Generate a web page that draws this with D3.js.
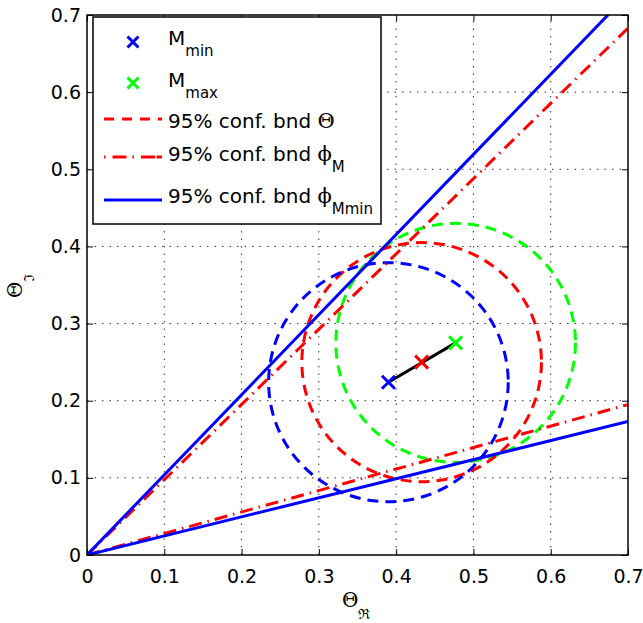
<!DOCTYPE html>
<html>
<head>
<meta charset="utf-8">
<script src="https://cdn.jsdelivr.net/npm/d3@7"></script>
<style>
  body { margin: 0; background: #fff; }
  text { font-family: "DejaVu Sans", sans-serif; fill: #000; }
</style>
</head>
<body>
<div id="chart"></div>
<script>
// axis ticks (same on both axes)
var tickValues = [0, 0.1, 0.2, 0.3, 0.4, 0.5, 0.6, 0.7];
var tickLabels = ["0", "0.1", "0.2", "0.3", "0.4", "0.5", "0.6", "0.7"];

// point estimates: Mmin, M, Mmax
var markerNames = ["Mmin", "M", "Mmax"];
var markerRe = [0.390, 0.433, 0.477];
var markerIm = [0.224, 0.250, 0.275];
var markerColors = ["#0000ff", "#ff0000", "#00ff00"];

// 95% confidence circles round each point
var circleRadius = [0.155, 0.155, 0.155];

// bound lines from the origin, value of Theta_Im at Theta_Re = 0.7
var lineRe = [0, 0.7];
var phiMUpper = [0, 0.683];
var phiMLower = [0, 0.195];
var phiMminUpper = [0, 0.727];
var phiMminLower = [0, 0.173];

var width = 643, height = 623;
var margin = { left: 87, top: 15, right: 15, bottom: 68 };

var svg = d3.select("#chart").append("svg")
  .attr("width", width)
  .attr("height", height);

var x = d3.scaleLinear().domain([0, 0.7]).range([margin.left, width - margin.right]);
var y = d3.scaleLinear().domain([0, 0.7]).range([height - margin.bottom, margin.top]);

svg.append("clipPath").attr("id", "plot-clip")
  .append("rect")
  .attr("x", x(0)).attr("y", y(0.7))
  .attr("width", x(0.7) - x(0)).attr("height", y(0) - y(0.7));

// grid
var grid = svg.append("g");
grid.selectAll(".gx").data(tickValues.slice(1, -1)).enter().append("line")
  .attr("x1", d => x(d)).attr("x2", d => x(d))
  .attr("y1", y(0)).attr("y2", y(0.7))
  .attr("stroke", "#333").attr("stroke-width", 1).attr("stroke-dasharray", "1.5,6");
grid.selectAll(".gy").data(tickValues.slice(1, -1)).enter().append("line")
  .attr("y1", d => y(d)).attr("y2", d => y(d))
  .attr("x1", x(0)).attr("x2", x(0.7))
  .attr("stroke", "#333").attr("stroke-width", 1).attr("stroke-dasharray", "1.5,6");

// axes, ticks inward on all sides
var fmt = (d, i) => tickLabels[i];
var xAxis = svg.append("g").attr("transform", "translate(0," + y(0) + ")")
  .call(d3.axisBottom(x).tickValues(tickValues).tickFormat(fmt).tickSizeInner(-6).tickSizeOuter(0).tickPadding(15));
var yAxis = svg.append("g").attr("transform", "translate(" + x(0) + ",0)")
  .call(d3.axisLeft(y).tickValues(tickValues).tickFormat(fmt).tickSizeInner(-6).tickSizeOuter(0).tickPadding(6));
svg.append("g").attr("transform", "translate(0," + y(0.7) + ")")
  .call(d3.axisTop(x).tickValues(tickValues).tickFormat("").tickSizeInner(-6).tickSizeOuter(0));
svg.append("g").attr("transform", "translate(" + x(0.7) + ",0)")
  .call(d3.axisRight(y).tickValues(tickValues).tickFormat("").tickSizeInner(-6).tickSizeOuter(0));
svg.selectAll(".domain").remove();
svg.selectAll(".tick line").attr("stroke", "#000");
xAxis.selectAll("text").attr("font-size", 19).attr("font-family", "DejaVu Sans");
yAxis.selectAll("text").attr("font-size", 19).attr("font-family", "DejaVu Sans");

var plot = svg.append("g").attr("clip-path", "url(#plot-clip)");

var line = d3.line().x(d => x(d[0])).y(d => y(d[1]));
function bound(vals) { return lineRe.map((r, i) => [r, vals[i]]); }

// confidence circles
var circleOrder = [2, 1, 0];
plot.selectAll(".conf").data(circleOrder).enter().append("ellipse")
  .attr("cx", i => x(markerRe[i]))
  .attr("cy", i => y(markerIm[i]))
  .attr("rx", i => x(circleRadius[i]) - x(0))
  .attr("ry", i => y(0) - y(circleRadius[i]))
  .attr("fill", "none")
  .attr("stroke", i => markerColors[i])
  .attr("stroke-width", 3)
  .attr("stroke-dasharray", "11,7");

// phi_M bounds (red dash-dot)
[phiMUpper, phiMLower].forEach(function (v) {
  plot.append("path").attr("d", line(bound(v)))
    .attr("fill", "none").attr("stroke", "#ff0000").attr("stroke-width", 3)
    .attr("stroke-dasharray", "13,6,1.5,6");
});
// phi_Mmin bounds (blue solid)
[phiMminUpper, phiMminLower].forEach(function (v) {
  plot.append("path").attr("d", line(bound(v)))
    .attr("fill", "none").attr("stroke", "#0000ff").attr("stroke-width", 3);
});

// black segment Mmin -> Mmax
plot.append("line")
  .attr("x1", x(markerRe[2])).attr("y1", y(markerIm[2]))
  .attr("x2", x(markerRe[0])).attr("y2", y(markerIm[0]))
  .attr("stroke", "#000").attr("stroke-width", 3);

function cross(g, cx, cy, s, color) {
  g.append("path")
    .attr("d", "M" + (cx - s) + "," + (cy - s) + "L" + (cx + s) + "," + (cy + s) +
               "M" + (cx - s) + "," + (cy + s) + "L" + (cx + s) + "," + (cy - s))
    .attr("stroke", color).attr("stroke-width", 3).attr("fill", "none");
}
markerNames.forEach(function (n, i) {
  cross(plot, x(markerRe[i]), y(markerIm[i]), 6.5, markerColors[i]);
});

// box
svg.append("rect")
  .attr("x", x(0)).attr("y", y(0.7))
  .attr("width", x(0.7) - x(0)).attr("height", y(0) - y(0.7))
  .attr("fill", "none").attr("stroke", "#000").attr("stroke-width", 1.5);

// axis labels
var xl = svg.append("text").attr("x", 342).attr("y", 607);
xl.append("tspan").attr("font-family", "DejaVu Serif").attr("font-size", 20).text("Θ");
xl.append("tspan").attr("font-family", "DejaVu Serif").attr("font-size", 14).attr("dy", 12).text("ℜ");

var yl = svg.append("text").attr("transform", "translate(22,298) rotate(-90)");
yl.append("tspan").attr("font-family", "DejaVu Serif").attr("font-size", 20).text("Θ");
yl.append("tspan").attr("font-family", "DejaVu Serif").attr("font-size", 14).attr("dy", 12).text("ℑ");

// legend
var leg = svg.append("g");
leg.append("rect").attr("x", 93).attr("y", 17).attr("width", 288).attr("height", 207)
  .attr("fill", "#fff").attr("stroke", "#000").attr("stroke-width", 1.5);

cross(leg, 133, 42, 5.5, markerColors[0]);
cross(leg, 133, 83, 5.5, markerColors[2]);
leg.append("line").attr("x1", 104).attr("x2", 162).attr("y1", 119).attr("y2", 119)
  .attr("stroke", "#ff0000").attr("stroke-width", 3).attr("stroke-dasharray", "10,8");
leg.append("line").attr("x1", 104).attr("x2", 162).attr("y1", 157).attr("y2", 157)
  .attr("stroke", "#ff0000").attr("stroke-width", 3).attr("stroke-dasharray", "1.5,7,14,6,1.5,7,14");
leg.append("line").attr("x1", 104).attr("x2", 162).attr("y1", 200).attr("y2", 200)
  .attr("stroke", "#0000ff").attr("stroke-width", 3);

var legendItems = [
  { y: 45, main: "M", sym: "", sub: "min" },
  { y: 87, main: "M", sym: "", sub: "max" },
  { y: 128, main: "95% conf. bnd ", sym: "Θ", sub: "" },
  { y: 161, main: "95% conf. bnd ", sym: "ϕ", sub: "M" },
  { y: 203, main: "95% conf. bnd ", sym: "ϕ", sub: "Mmin" }
];
legendItems.forEach(function (d) {
  var t = leg.append("text").attr("x", 168).attr("y", d.y).attr("font-size", 20);
  t.append("tspan").text(d.main);
  if (d.sym) t.append("tspan").attr("font-family", "DejaVu Serif").attr("font-size", 21).text(d.sym);
  if (d.sub) t.append("tspan").attr("font-size", 15).attr("dy", 11).text(d.sub);
});
</script>
</body>
</html>
